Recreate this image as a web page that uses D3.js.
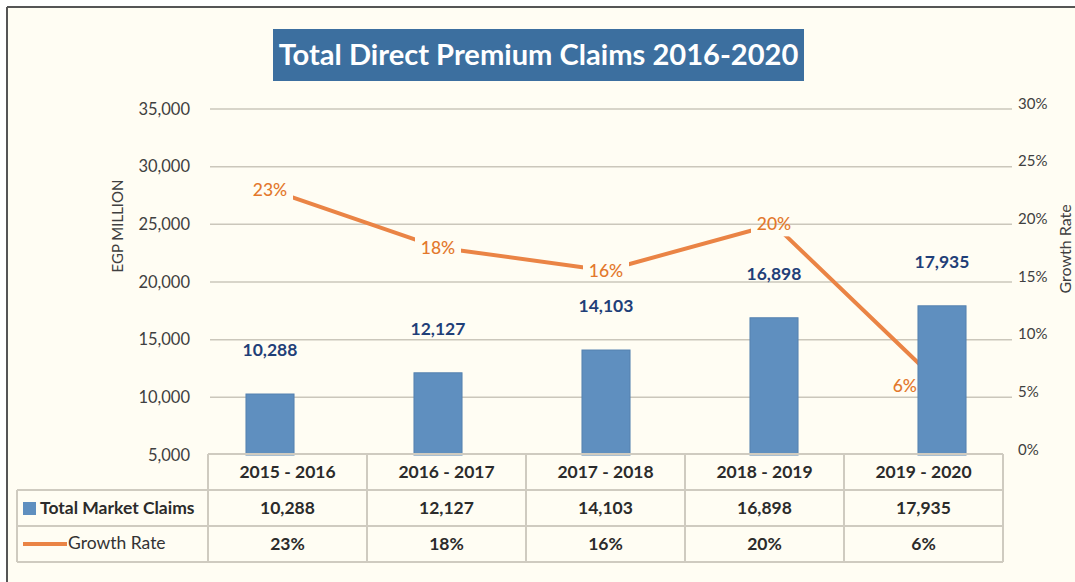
<!DOCTYPE html>
<html>
<head>
<meta charset="utf-8">
<script src="https://cdn.jsdelivr.net/npm/d3@7/dist/d3.min.js"></script>
<style>
  html, body { margin: 0; padding: 0; background: #ffffff; }
  svg { display: block; }
  text { font-family: Lato, "Open Sans", sans-serif; }
</style>
</head>
<body>
<svg id="chart" width="1075" height="582"></svg>
<script>
// ---- data ----
const categories = ["2015 - 2016", "2016 - 2017", "2017 - 2018", "2018 - 2019", "2019 - 2020"];
const claims = [10288, 12127, 14103, 16898, 17935];
const growth = [0.23, 0.18, 0.16, 0.20, 0.06];
const leftTicks = [5000, 10000, 15000, 20000, 25000, 30000, 35000];
const rightTicks = [0, 0.05, 0.10, 0.15, 0.20, 0.25, 0.30];
const titleText = "Total Direct Premium Claims 2016-2020";
const seriesNames = ["Total Market Claims", "Growth Rate"];

// ---- style ----
const BG = "#fffdf3";
const BAR = "#5f8fbf";
const BAR_EDGE = "#5582b0";
const LINE = "#ea8445";
const LINE_LABEL = "#e3782c";
const BAR_LABEL = "#1f3f78";
const GRID = "#cbc7bb";
const AXIS_TXT = "#404040";
const TABLE_LINE = "#cfcbc0";

const svg = d3.select("#chart");
const defs = svg.append("defs");

// frame & background
svg.append("rect").attr("x", 0).attr("y", 0).attr("width", 1075).attr("height", 582).attr("fill", "#ffffff");
svg.append("rect").attr("x", 7).attr("y", 7).attr("width", 1075).attr("height", 582).attr("fill", BG);
svg.append("line").attr("x1", 7).attr("x2", 1075).attr("y1", 7).attr("y2", 7).attr("stroke", "#555").attr("stroke-width", 2);
svg.append("line").attr("x1", 7).attr("x2", 7).attr("y1", 7).attr("y2", 582).attr("stroke", "#555").attr("stroke-width", 2);

// scales
const x = d3.scaleBand().domain(categories).range([186, 1026]).paddingInner(0.714).paddingOuter(0.357);
const yL = d3.scaleLinear().domain([5000, 35000]).range([455, 109]);
const yR = d3.scaleLinear().domain([0, 0.30]).range([455, 109]);
const tx = d3.scaleBand().domain(categories).range([208, 1003]);

// gridlines
svg.append("g").selectAll("line").data(leftTicks.slice(1)).join("line")
  .attr("x1", 210).attr("x2", 1012)
  .attr("y1", d => yL(d)).attr("y2", d => yL(d))
  .attr("stroke", GRID).attr("stroke-width", 1.5);

// left axis
const leftAxis = d3.axisLeft(yL).tickValues(leftTicks).tickFormat(d3.format(",")).tickSize(0).tickPadding(0);
const gL = svg.append("g").attr("transform", "translate(190,0)").call(leftAxis);
gL.select(".domain").remove();
gL.selectAll("text").attr("fill", AXIS_TXT).style("font-size", "16.5px").style("font-family", "Lato, sans-serif");

// right axis
const rightAxis = d3.axisRight(yR).tickValues(rightTicks).tickFormat(d3.format(".0%")).tickSize(0).tickPadding(0);
const gR = svg.append("g").attr("transform", "translate(1018,0)").call(rightAxis);
gR.select(".domain").remove();
gR.selectAll("text").attr("fill", AXIS_TXT).attr("dy", "-0.05em").style("font-size", "15px").style("font-family", "Lato, sans-serif");

// axis titles
svg.append("text").attr("transform", "translate(123,226) rotate(-90)")
  .attr("text-anchor", "middle").attr("fill", AXIS_TXT).style("font-size", "15px")
  .text("EGP MILLION");
svg.append("text").attr("transform", "translate(1071,249) rotate(-90)")
  .attr("text-anchor", "middle").attr("fill", AXIS_TXT).style("font-size", "16px")
  .text(seriesNames[1]);

// line labels: centred on the point, or left of the bar when the point falls inside it
const cx = i => x(categories[i]) + x.bandwidth() / 2;
const insideBar = (d, i) => yR(d) > yL(claims[i]) - 8;
const labelInfo = growth.map((d, i) => {
  if (insideBar(d, i)) {
    const right = x(categories[i]) - 1;
    return { x: right, anchor: "end", holeX: right - 30, holeW: 32 };
  }
  return { x: cx(i), anchor: "middle", holeX: cx(i) - 23, holeW: 46 };
});

// mask to open gaps in the line behind the labels
const mask = defs.append("mask").attr("id", "lineMask").attr("maskUnits", "userSpaceOnUse")
  .attr("x", 0).attr("y", 0).attr("width", 1075).attr("height", 582);
mask.append("rect").attr("x", 0).attr("y", 0).attr("width", 1075).attr("height", 582).attr("fill", "white");
mask.selectAll("rect.hole").data(growth).join("rect").attr("class", "hole")
  .attr("x", (d, i) => labelInfo[i].holeX).attr("y", d => yR(d) - 12)
  .attr("width", (d, i) => labelInfo[i].holeW).attr("height", 24).attr("fill", "black");

// growth line (drawn behind the bars)
const line = d3.line().x((d, i) => cx(i)).y(d => yR(d));
svg.append("path").datum(growth).attr("d", line)
  .attr("fill", "none").attr("stroke", LINE).attr("stroke-width", 4)
  .attr("stroke-linejoin", "round").attr("mask", "url(#lineMask)");

// bars
svg.append("g").selectAll("rect").data(claims).join("rect")
  .attr("x", (d, i) => x(categories[i]))
  .attr("y", d => yL(d))
  .attr("width", x.bandwidth())
  .attr("height", d => yL(5000) - yL(d))
  .attr("fill", BAR).attr("stroke", BAR_EDGE).attr("stroke-width", 1);

// bar labels
svg.append("g").selectAll("text").data(claims).join("text")
  .attr("x", (d, i) => x(categories[i]) + x.bandwidth() / 2)
  .attr("y", d => yL(d) - 38)
  .attr("text-anchor", "middle").attr("fill", BAR_LABEL)
  .style("font-size", "17.5px").style("font-weight", "700")
  .text(d => d3.format(",")(d));

// line labels
svg.append("g").selectAll("text").data(growth).join("text")
  .attr("x", (d, i) => labelInfo[i].x).attr("y", d => yR(d))
  .attr("text-anchor", (d, i) => labelInfo[i].anchor).attr("dy", "0.35em")
  .attr("fill", LINE_LABEL).style("font-size", "17.5px").style("font-weight", "500")
  .text(d => d3.format(".0%")(d));

// ---- data table ----
const rowTop = 454, rowH = 36;
const tg = svg.append("g");
tg.append("line").attr("x1", 208).attr("x2", 1003).attr("y1", rowTop).attr("y2", rowTop);
[1, 2, 3].forEach(r => {
  tg.append("line").attr("x1", 17).attr("x2", 1003).attr("y1", rowTop + r * rowH).attr("y2", rowTop + r * rowH);
});
tg.append("line").attr("x1", 17).attr("x2", 17).attr("y1", rowTop + rowH).attr("y2", rowTop + 3 * rowH);
categories.forEach(c => {
  tg.append("line").attr("x1", tx(c)).attr("x2", tx(c)).attr("y1", rowTop).attr("y2", rowTop + 3 * rowH);
});
tg.append("line").attr("x1", 1003).attr("x2", 1003).attr("y1", rowTop).attr("y2", rowTop + 3 * rowH);
tg.selectAll("line").attr("stroke", TABLE_LINE).attr("stroke-width", 2);

const cellText = (row, vals) => {
  tg.append("g").selectAll("text").data(vals).join("text")
    .attr("x", (d, i) => tx(categories[i]) + tx.bandwidth() / 2)
    .attr("y", rowTop + row * rowH + rowH / 2)
    .attr("dy", "0.35em").attr("text-anchor", "middle")
    .attr("fill", "#2b2b2b").style("font-size", "17.5px").style("font-weight", "700")
    .text(d => d);
};
cellText(0, categories);
cellText(1, claims.map(d3.format(",")));
cellText(2, growth.map(d3.format(".0%")));

// legend cells
tg.append("rect").attr("x", 23).attr("y", 502).attr("width", 13).attr("height", 13).attr("fill", BAR);
tg.append("text").attr("x", 40).attr("y", rowTop + rowH * 1.5).attr("dy", "0.35em")
  .attr("fill", "#2b2b2b").style("font-size", "17.5px").style("font-weight", "700")
  .text(seriesNames[0]);
tg.append("line").attr("x1", 23).attr("x2", 67).attr("y1", 544).attr("y2", 544)
  .attr("stroke", LINE).attr("stroke-width", 4);
tg.append("text").attr("x", 68).attr("y", rowTop + rowH * 2.5).attr("dy", "0.3em")
  .attr("fill", "#333").style("font-size", "17.5px")
  .text(seriesNames[1]);

// ---- title ----
svg.append("rect").attr("x", 273).attr("y", 29).attr("width", 531).attr("height", 52).attr("fill", "#3c6f9f");
const tt = svg.append("text").attr("x", 538.5).attr("y", 55).attr("dy", "0.35em")
  .attr("text-anchor", "middle").attr("fill", "#ffffff")
  .style("font-size", "28px").style("font-weight", "700")
  .text(titleText);
const w = tt.node().getComputedTextLength();
tt.style("font-size", (28 * 520 / w).toFixed(2) + "px");
</script>
</body>
</html>
